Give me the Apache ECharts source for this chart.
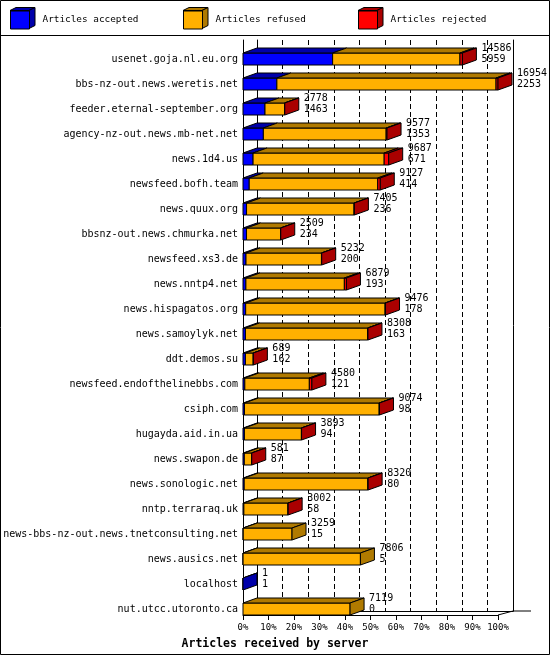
<!DOCTYPE html>
<html>
<head>
  <meta charset="utf-8">
  <title>Articles received by server</title>
  <script src="https://cdn.jsdelivr.net/npm/echarts@6/dist/echarts.min.js"></script>
  <style>
    html, body { margin: 0; padding: 0; background: #fff; }
  </style>
</head>
<body>
  <div id="chart" style="width: 550px; height: 655px;"></div>

  <script>
    // servers, top to bottom
    const servers = [
      'usenet.goja.nl.eu.org', 'bbs-nz-out.news.weretis.net', 'feeder.eternal-september.org',
      'agency-nz-out.news.mb-net.net', 'news.1d4.us', 'newsfeed.bofh.team', 'news.quux.org',
      'bbsnz-out.news.chmurka.net', 'newsfeed.xs3.de', 'news.nntp4.net', 'news.hispagatos.org',
      'news.samoylyk.net', 'ddt.demos.su', 'newsfeed.endofthelinebbs.com', 'csiph.com',
      'hugayda.aid.in.ua', 'news.swapon.de', 'news.sonologic.net', 'nntp.terraraq.uk',
      'news-bbs-nz-out.news.tnetconsulting.net', 'news.ausics.net', 'localhost', 'nut.utcc.utoronto.ca'
    ];
    // total articles offered (upper number)
    const offered = [14586, 16954, 2778, 9577, 9687, 9127, 7405, 2509, 5232, 6879, 9476, 8308,
      689, 4580, 9074, 3893, 581, 8320, 3002, 3259, 7806, 1, 7119];
    // articles accepted (lower number)
    const accepted = [5959, 2253, 1463, 1353, 671, 414, 236, 234, 200, 193, 178, 163,
      162, 121, 98, 94, 87, 80, 58, 15, 5, 1, 0];
    // articles rejected (estimated from the red slices)
    const rejected = [160, 130, 15, 60, 300, 170, 20, 10, 15, 140, 30, 20,
      8, 170, 20, 10, 5, 15, 5, 0, 0, 0, 0];
    const xTicks = [0, 10, 20, 30, 40, 50, 60, 70, 80, 90, 100];

    const FONT = 'DejaVu Sans Mono';
    const COLORS = {
      accepted: ['#0000ff', '#0000aa'],
      refused: ['#ffb000', '#b07a00'],
      rejected: ['#ff0000', '#aa0000']
    };
    const DX = 14, DY = 5;

    const maxTotal = Math.max(...offered);
    const pct = v => v / maxTotal * 100;

    // build the three stacked segments per server
    const accData = [], refData = [], rejData = [];
    servers.forEach((s, i) => {
      const refused = offered[i] - accepted[i] - rejected[i];
      const a1 = pct(accepted[i]);
      const r1 = pct(accepted[i] + refused);
      const t1 = pct(offered[i]);
      const lastIdx = rejected[i] > 0 ? 2 : (refused > 0 ? 1 : 0);
      accData.push([i, 0, a1, lastIdx === 0 ? 1 : 0, offered[i], accepted[i], 0]);
      refData.push([i, a1, r1, lastIdx === 1 ? 1 : 0, offered[i], accepted[i], 0]);
      rejData.push([i, r1, t1, lastIdx === 2 ? 1 : 0, offered[i], accepted[i], 1]);
    });

    function makeRender(colors) {
      return function (params, api) {
        const ci = api.value(0);
        const x0 = api.value(1), x1 = api.value(2);
        const isLast = api.value(3), withLabel = api.value(6);
        const p0 = api.coord([x0, ci]);
        const p1 = api.coord([x1, ci]);
        const band = api.size([0, 1])[1];
        const bottom = Math.round(p0[1] + band / 2);
        const top = bottom - 12;
        const l = p0[0], r = p1[0];
        const children = [];
        const stroke = { stroke: '#000', lineWidth: 1 };
        if (r - l > 0.01) {
          children.push({
            type: 'rect',
            shape: { x: l, y: top, width: r - l, height: bottom - top },
            style: Object.assign({ fill: colors[0] }, stroke)
          });
          children.push({
            type: 'polygon',
            shape: { points: [[l, top], [l + DX, top - DY], [r + DX, top - DY], [r, top]] },
            style: Object.assign({ fill: colors[1] }, stroke)
          });
        }
        if (isLast) {
          children.push({
            type: 'polygon',
            shape: { points: [[r, top], [r + DX, top - DY], [r + DX, bottom - DY], [r, bottom]] },
            style: Object.assign({ fill: colors[1] }, stroke)
          });
        }
        if (withLabel) {
          children.push({
            type: 'text',
            x: r + DX + 5,
            y: top - 10,
            style: {
              text: api.value(4) + '\n' + api.value(5),
              font: '10px "' + FONT + '"',
              lineHeight: 11,
              fill: '#000',
              verticalAlign: 'top'
            }
          });
        }
        return { type: 'group', children: children };
      };
    }

    function cube(x, y, dark) {
      // side and top faces of a legend cube, front square is the legend icon
      const w = 19, h = 18, dx = 6, dy = 3;
      return [
        { type: 'polygon', shape: { points: [[x, y], [x + dx, y - dy], [x + w + dx, y - dy], [x + w, y]] },
          style: { fill: dark, stroke: '#000', lineWidth: 1 } },
        { type: 'polygon', shape: { points: [[x + w, y], [x + w + dx, y - dy], [x + w + dx, y + h - dy], [x + w, y + h]] },
          style: { fill: dark, stroke: '#000', lineWidth: 1 } }
      ];
    }

    const legendBase = {
      top: 10.5,
      padding: 0,
      itemWidth: 19,
      itemHeight: 18,
      icon: 'rect',
      itemStyle: { borderColor: '#000', borderWidth: 1 },
      textStyle: { fontFamily: FONT, fontSize: 9.4, color: '#000', padding: [0, 0, 0, 8] },
      selectedMode: false
    };

    const chart = echarts.init(document.getElementById('chart'));
    chart.setOption({
      animation: false,
      backgroundColor: '#fff',
      title: {
        text: 'Articles received by server',
        left: 'center',
        top: 633,
        textStyle: { fontFamily: FONT, fontSize: 11.5, fontWeight: 'bold', color: '#000' }
      },
      legend: [
        Object.assign({ left: 10, data: ['Articles accepted'] }, legendBase),
        Object.assign({ left: 183, data: ['Articles refused'] }, legendBase),
        Object.assign({ left: 358, data: ['Articles rejected'] }, legendBase)
      ],
      grid: [
        { left: 243, top: 40, width: 255, bottom: 40, containLabel: false },
        { left: 257, top: 40, width: 256, bottom: 44, containLabel: false }
      ],
      xAxis: [
        {
          gridIndex: 0, type: 'value', min: 0, max: 100, interval: 10,
          axisLine: { show: true, lineStyle: { color: '#000', width: 1 } },
          axisTick: { show: true, length: 5, lineStyle: { color: '#000' } },
          axisLabel: {
            margin: 8, fontFamily: FONT, fontSize: 9, color: '#000',
            formatter: v => xTicks.includes(v) ? v + '%' : ''
          },
          splitLine: { show: false }
        },
        {
          gridIndex: 1, type: 'value', min: 0, max: 100, interval: 10,
          axisLine: { show: true, lineStyle: { color: '#000', width: 1 } },
          axisTick: { show: false },
          axisLabel: { show: false },
          splitLine: { show: true, lineStyle: { color: '#000', type: [5, 3], width: 1 } }
        }
      ],
      yAxis: [
        {
          gridIndex: 0, type: 'category', data: servers, inverse: true,
          axisLine: { show: true, lineStyle: { color: '#000', width: 1 } },
          axisTick: { show: false },
          axisLabel: {
            margin: 5, fontFamily: FONT, fontSize: 10, color: '#000',
            verticalAlign: 'top', lineHeight: 14, interval: 0
          }
        },
        {
          gridIndex: 1, type: 'value', min: 0, max: 1, position: 'left',
          axisLine: { show: true, onZero: false, lineStyle: { color: '#000', width: 1 } },
          axisTick: { show: false }, axisLabel: { show: false }, splitLine: { show: false }
        },
        {
          gridIndex: 1, type: 'value', min: 0, max: 1, position: 'right',
          axisLine: { show: true, onZero: false, lineStyle: { color: '#000', width: 1 } },
          axisTick: { show: false }, axisLabel: { show: false }, splitLine: { show: false }
        }
      ],
      series: [
        {
          name: 'Articles accepted', type: 'custom', xAxisIndex: 0, yAxisIndex: 0,
          itemStyle: { color: COLORS.accepted[0] },
          encode: { x: [1, 2], y: 0 },
          renderItem: makeRender(COLORS.accepted), data: accData, z: 5
        },
        {
          name: 'Articles refused', type: 'custom', xAxisIndex: 0, yAxisIndex: 0,
          itemStyle: { color: COLORS.refused[0] },
          encode: { x: [1, 2], y: 0 },
          renderItem: makeRender(COLORS.refused), data: refData, z: 5
        },
        {
          name: 'Articles rejected', type: 'custom', xAxisIndex: 0, yAxisIndex: 0,
          itemStyle: { color: COLORS.rejected[0] },
          encode: { x: [1, 2], y: 0 },
          renderItem: makeRender(COLORS.rejected), data: rejData, z: 6
        }
      ],
      graphic: [
        { type: 'rect', shape: { x: 0.5, y: 0.5, width: 549, height: 654 },
          style: { fill: 'none', stroke: '#000', lineWidth: 1 }, z: 100 },
        { type: 'line', shape: { x1: 0, y1: 35.5, x2: 550, y2: 35.5 },
          style: { stroke: '#000', lineWidth: 1 } },
        { type: 'line', shape: { x1: 498, y1: 615, x2: 513, y2: 611 },
          style: { stroke: '#000', lineWidth: 1 } },
        { type: 'line', shape: { x1: 513, y1: 611, x2: 531, y2: 611 },
          style: { stroke: '#000', lineWidth: 1 } }
      ].concat(
        cube(10, 10.5, COLORS.accepted[1]),
        cube(183, 10.5, COLORS.refused[1]),
        cube(358, 10.5, COLORS.rejected[1])
      )
    });
  </script>
</body>
</html>
